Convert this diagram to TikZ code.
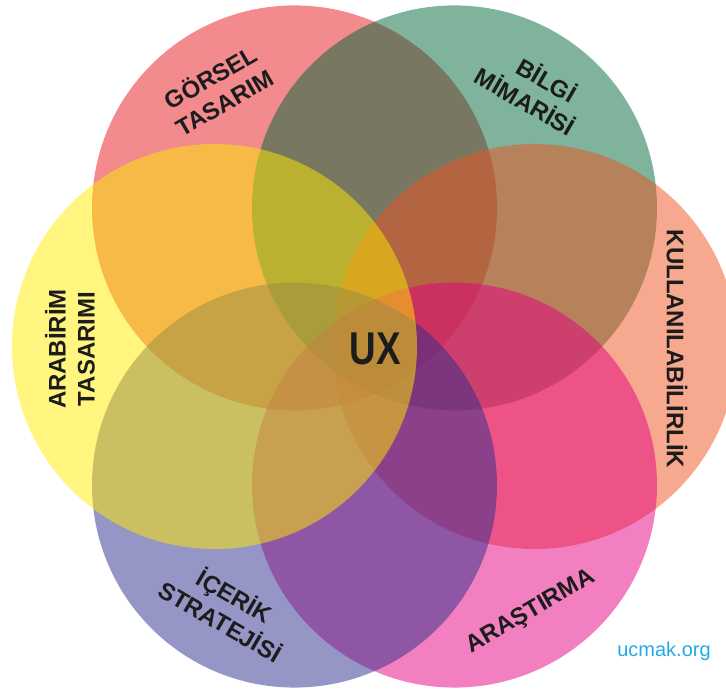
\documentclass[tikz,border=0pt]{standalone}
\usepackage{fontspec}
\setmainfont{Liberation Sans}
\definecolor{cpink}{RGB}{229,21,29}
\definecolor{cgreen}{RGB}{0,103,57}
\definecolor{csalmon}{RGB}{237,83,31}
\definecolor{cmagenta}{RGB}{229,0,129}
\definecolor{cpurple}{RGB}{45,45,141}
\definecolor{cyellow}{RGB}{255,235,0}
\definecolor{ctext}{RGB}{28,28,28}
\definecolor{cblue}{RGB}{35,170,230}
\begin{document}
\begin{tikzpicture}[x=1pt,y=1pt,
  circ/.style={fill opacity=0.5},
  lbl/.style={font=\fontsize{24}{29}\selectfont\bfseries, align=center, text=ctext, inner sep=0pt}]
\useasboundingbox (0,0) rectangle (726,691);
\clip (0,0) rectangle (726,691);
\coordinate (c) at (374.5,344.5);
\path (c) ++(120:160) coordinate (pk)
      (c) ++(60:160) coordinate (gr)
      (c) ++(0:160) coordinate (sa)
      (c) ++(300:160) coordinate (mg)
      (c) ++(240:160) coordinate (pu)
      (c) ++(180:160) coordinate (ye);
\fill[circ, fill=cpink] (pk) circle[radius=202.5];
\fill[circ, fill=cgreen] (gr) circle[radius=202.5];
\fill[circ, fill=csalmon] (sa) circle[radius=202.5];
\fill[circ, fill=cmagenta] (mg) circle[radius=202.5];
\fill[circ, fill=cpurple] (pu) circle[radius=202.5];
\fill[circ, fill=cyellow] (ye) circle[radius=202.5];
\node[lbl, rotate=30] (gorsel) at (217,602) {GÖRSEL\\TASARIM};
\node[lbl, rotate=-30] (bilgi) at (533,603) {\hspace*{16pt}BİLGİ\\MİMARİSİ};
\node[lbl, rotate=-90] (kull) at (677,342) {KULLANILABİLİRLİK};
\node[lbl, rotate=90] (arab) at (70,342) {ARABİRİM\\TASARIMI};
\node[lbl, rotate=-30] (icerik) at (228,83) {İÇERİK\\STRATEJİSİ};
\node[lbl, rotate=30] (aras) at (531,79) {ARAŞTIRMA};
\node[font=\fontsize{46}{46}\selectfont\bfseries, text=ctext, inner sep=0pt] (ux) at (375,342) {\scalebox{0.8}[1]{UX}};
\node[font=\fontsize{20}{20}\selectfont, text=cblue, inner sep=0pt] (logo) at (664,40) {ucmak.org};
\end{tikzpicture}
\end{document}
